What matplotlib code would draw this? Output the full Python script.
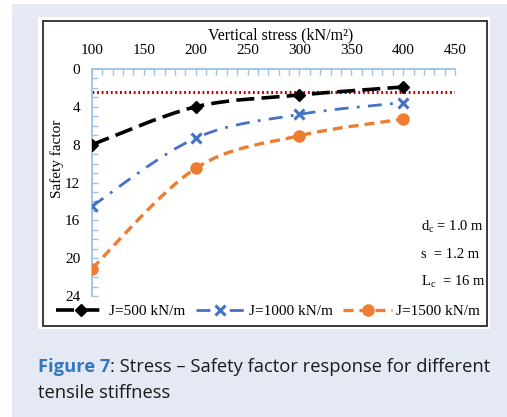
import matplotlib
matplotlib.use("Agg")
import matplotlib.pyplot as plt
from matplotlib.path import Path
from matplotlib.patches import PathPatch, Rectangle
from matplotlib.lines import Line2D
from matplotlib.ticker import MultipleLocator

# data
stress = [100, 200, 300, 400]
fs_j500 = [8.0, 4.0, 2.75, 1.9]
fs_j1000 = [14.5, 7.3, 4.8, 3.55]
fs_j1500 = [21.1, 10.5, 7.05, 5.3]
fs_limit = 2.4
labels = ["J=500 kN/m", "J=1000 kN/m", "J=1500 kN/m"]
notes = [r"d$_\mathrm{c}$ = 1.0 m", "s  = 1.2 m", r"L$_\mathrm{c}$  = 16 m"]

W, H = 507, 417
plt.rcParams["font.family"] = ["Liberation Serif", "DejaVu Serif"]
plt.rcParams["mathtext.fontset"] = "custom"
plt.rcParams["mathtext.rm"] = "Liberation Serif"
plt.rcParams["mathtext.it"] = "Liberation Serif:italic"

fig = plt.figure(figsize=(W / 100, H / 100), dpi=100)
fig.patch.set_facecolor("white")


def fx(px):
  return px / W


def fy(py):
  return 1 - py / H


# page background, white chart panel and its frame
fig.patches.append(Rectangle((fx(12), 0), 1, fy(4), transform=fig.transFigure,
                             facecolor="#E4E9F4", edgecolor="none", zorder=-3))
fig.patches.append(Rectangle((fx(38), fy(329)), fx(490 - 38), (329 - 17) / H,
                             transform=fig.transFigure, facecolor="white",
                             edgecolor="none", zorder=-2))
fig.patches.append(Rectangle((fx(43), fy(326)), fx(487 - 43), (326 - 21) / H,
                             transform=fig.transFigure, facecolor="none",
                             edgecolor="#2b2b2b", lw=1.3, zorder=-1))

ax = fig.add_axes([fx(92), fy(296), fx(455 - 92), (296 - 69) / H])
ax.set_facecolor("none")
ax.set_xlim(100, 450)
ax.set_ylim(24, 0)

axis_blue = "#9DC3E6"
for s in ["right", "bottom"]:
  ax.spines[s].set_visible(False)
for s in ["top", "left"]:
  ax.spines[s].set_color(axis_blue)
  ax.spines[s].set_linewidth(1.3)

ax.xaxis.tick_top()
ax.xaxis.set_major_locator(MultipleLocator(50))
ax.xaxis.set_minor_locator(MultipleLocator(10))
ax.yaxis.set_major_locator(MultipleLocator(4))
ax.yaxis.set_minor_locator(MultipleLocator(1))
ax.tick_params(which="both", direction="in", color=axis_blue, width=1.0,
               labelsize=11, pad=8.5)
ax.tick_params(which="major", length=4)
ax.tick_params(which="minor", length=4)


def smooth_path(xs, ys):
  # excel-style smoothed line: cubic bezier through the points
  pts = list(zip(xs, ys))
  n = len(pts)
  verts = [pts[0]]
  codes = [Path.MOVETO]
  for i in range(n - 1):
    p0 = pts[max(i - 1, 0)]
    p1 = pts[i]
    p2 = pts[i + 1]
    p3 = pts[min(i + 2, n - 1)]
    c1 = (p1[0] + (p2[0] - p0[0]) / 6, p1[1] + (p2[1] - p0[1]) / 6)
    c2 = (p2[0] - (p3[0] - p1[0]) / 6, p2[1] - (p3[1] - p1[1]) / 6)
    verts += [c1, c2, p2]
    codes += [Path.CURVE4] * 3
  return Path(verts, codes)


series = [
  (fs_j500, "black", (0, (5, 2)), 2.6, dict(marker="D", markersize=6.5,
                                             markerfacecolor="black", markeredgecolor="black")),
  (fs_j1000, "#4472C4", (0, (5, 3, 1, 3)), 2.0, dict(marker="x", markersize=7.5,
                                                     markeredgewidth=2.2, markeredgecolor="#4472C4")),
  (fs_j1500, "#ED7D31", (0, (3, 1.8)), 2.4, dict(marker="o", markersize=8,
                                                  markerfacecolor="#ED7D31", markeredgecolor="#ED7D31")),
]

ax.axhline(fs_limit, color="#C00000", lw=2.2, linestyle=(0, (0.6, 0.9)), zorder=1)

handles = []
for ys, col, ls, lw, mk in series:
  ax.add_patch(PathPatch(smooth_path(stress, ys), facecolor="none", edgecolor=col,
                         lw=lw, linestyle=ls, zorder=2))
  ax.plot(stress, ys, linestyle="none", zorder=3, **mk)
  handles.append(Line2D([], [], color=col, lw=lw, linestyle=ls, **mk))

fig.legend(handles, labels, loc="center", bbox_to_anchor=(fx(268), fy(311)),
           ncol=3, frameon=False, fontsize=11, handlelength=3.2, handletextpad=0.25,
           columnspacing=0.7, numpoints=1, borderpad=0, borderaxespad=0)

fig.text(fx(281), fy(35), "Vertical stress (kN/m²)", ha="center", va="center", fontsize=11.5)
fig.text(fx(57), fy(159), "Safety factor", ha="center", va="center", rotation=90, fontsize=11)

for py, t in zip([227, 255, 282], notes):
  fig.text(fx(421), fy(py), t, ha="left", va="center", fontsize=10.5)

# caption
cap_font = ["Open Sans", "DejaVu Sans"]
t1 = fig.text(fx(38), fy(367), "Figure 7", ha="left", va="center", fontsize=13.2,
              fontweight="bold", color="#3478BE", family=cap_font)
ax.annotate(": Stress \u2013 Safety factor response for different", xy=(1, 0.5),
            xycoords=t1, ha="left", va="center", fontsize=13.2, color="#1a1a1a",
            family=cap_font, annotation_clip=False)
fig.text(fx(38), fy(393), "tensile stiffness", ha="left", va="center", fontsize=13.2,
         color="#1a1a1a", family=cap_font)

fig.savefig("out.png", dpi=100)
